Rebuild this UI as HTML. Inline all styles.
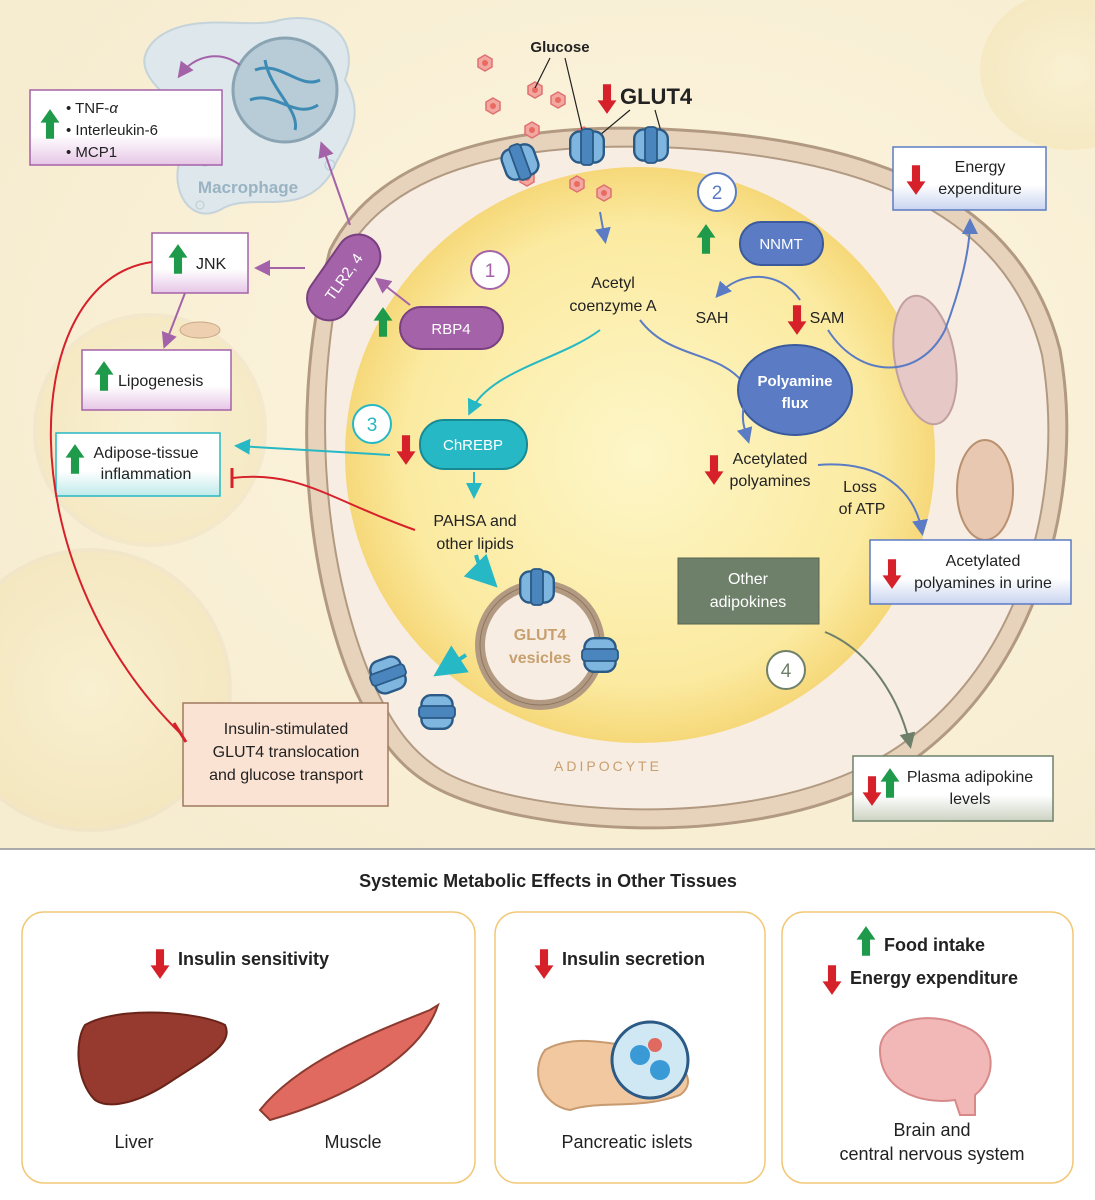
<!DOCTYPE html>
<html><head><meta charset="utf-8"><style>
html,body{margin:0;padding:0;background:#fff}
svg{display:block}
text{font-family:"Liberation Sans",sans-serif;fill:#222}
</style></head><body>
<svg width="1095" height="1200" viewBox="0 0 1095 1200" xmlns="http://www.w3.org/2000/svg">
<defs>
<radialGradient id="bg" cx="0.6" cy="0.45" r="0.7"><stop offset="0" stop-color="#fdf6e0"/><stop offset="1" stop-color="#f6ecd0"/></radialGradient>
<radialGradient id="lip" cx="0.5" cy="0.5" r="0.5"><stop offset="0" stop-color="#fdf6c8"/><stop offset="0.8" stop-color="#fbeaa0"/><stop offset="1" stop-color="#f6d879"/></radialGradient>
<radialGradient id="ghost" cx="0.5" cy="0.5" r="0.5"><stop offset="0" stop-color="#fbf3d0"/><stop offset="1" stop-color="#f3e3b0"/></radialGradient>
<linearGradient id="pk" x1="0" y1="0" x2="0" y2="1"><stop offset="0.6" stop-color="#fff"/><stop offset="1" stop-color="#e6c6e6"/></linearGradient>
<linearGradient id="tl" x1="0" y1="0" x2="0" y2="1"><stop offset="0.6" stop-color="#fff"/><stop offset="1" stop-color="#bfeaea"/></linearGradient>
<linearGradient id="bl" x1="0" y1="0" x2="0" y2="1"><stop offset="0.6" stop-color="#fff"/><stop offset="1" stop-color="#c9d4ef"/></linearGradient>
<linearGradient id="gr" x1="0" y1="0" x2="0" y2="1"><stop offset="0.6" stop-color="#fff"/><stop offset="1" stop-color="#ccd3c2"/></linearGradient>
<marker id="ap" markerWidth="8" markerHeight="8" refX="6" refY="4" orient="auto"><path d="M0,0 L8,4 L0,8z" fill="#a463a8"/></marker>
<marker id="ab" markerWidth="8" markerHeight="8" refX="6" refY="4" orient="auto"><path d="M0,0 L8,4 L0,8z" fill="#5b7cc4"/></marker>
<marker id="at" markerWidth="8" markerHeight="8" refX="6" refY="4" orient="auto"><path d="M0,0 L8,4 L0,8z" fill="#26b8c4"/></marker>
<marker id="ag" markerWidth="8" markerHeight="8" refX="6" refY="4" orient="auto"><path d="M0,0 L8,4 L0,8z" fill="#6f806a"/></marker>
<g id="up"><path transform="scale(1.35)" d="M-3,8 L-3,-4 L-7,-4 L0,-14 L7,-4 L3,-4 L3,8z" fill="#1e9a4a"/></g>
<g id="dn"><path transform="scale(1.35)" d="M-3,-8 L-3,4 L-7,4 L0,14 L7,4 L3,4 L3,-8z" fill="#d6202a"/></g>
<g id="ch"><g transform="scale(1.2)"><rect x="-14" y="-13" width="28" height="26" rx="8" fill="#7fb6e0" stroke="#2a5a85" stroke-width="2"/><rect x="-5" y="-15" width="10" height="30" rx="3" fill="#4a86bd" stroke="#2a5a85" stroke-width="1.5"/></g></g>
<g id="gl"><polygon points="0,-8 7,-4 7,4 0,8 -7,4 -7,-4" fill="#f2a8a0" stroke="#e07070" stroke-width="1.5"/><circle r="3" fill="#e86a60"/></g>
</defs>
<rect width="1095" height="850" fill="url(#bg)"/>
<circle cx="90" cy="690" r="140" fill="url(#ghost)" stroke="#eee0c0" stroke-width="4" opacity="0.5"/>
<circle cx="150" cy="430" r="115" fill="url(#ghost)" stroke="#eee0c0" stroke-width="4" opacity="0.45"/>
<ellipse cx="1070" cy="70" rx="90" ry="80" fill="url(#ghost)" opacity="0.5"/>
<rect x="0" y="848" width="1095" height="2" fill="#aaa"/>
<path d="M155,40 C190,10 250,30 280,20 C330,10 360,40 345,80 C370,120 340,150 330,175 C300,220 250,190 220,210 C190,225 170,190 180,160 C150,150 170,110 160,90 C140,70 140,55 155,40z" fill="#dde7ec" stroke="#c5d3da" stroke-width="2"/>
<circle cx="285" cy="90" r="52" fill="#b7ccd6" stroke="#8aa4b3" stroke-width="3"/>
<path d="M255,70 C280,60 300,90 320,80 M250,100 C275,90 295,120 318,105 M265,60 C270,90 300,110 295,130" stroke="#3d8bb5" stroke-width="3" fill="none"/>
<circle cx="205" cy="160" r="6" fill="none" stroke="#b9cbd5"/><circle cx="200" cy="205" r="4" fill="none" stroke="#b9cbd5"/><circle cx="330" cy="165" r="5" fill="none" stroke="#b9cbd5"/>
<text x="248" y="193" font-size="17" font-weight="bold" text-anchor="middle" style="fill:#9ab3c3">Macrophage</text>
<path d="M240,65 C220,50 195,55 180,75" stroke="#a463a8" stroke-width="2" fill="none" marker-end="url(#ap)"/>
<path d="M330,250 C380,150 520,120 680,130 C860,140 1020,190 1060,350 C1090,520 1020,720 860,790 C720,850 520,830 440,790 C400,770 380,740 360,700 C320,620 280,440 330,250z" fill="#e7d3bc" stroke="#b29a82" stroke-width="3"/>
<path d="M345,255 C395,165 525,140 680,148 C850,158 1005,205 1042,355 C1070,520 1005,705 852,772 C720,830 525,812 450,775 C415,757 395,728 378,693 C340,615 300,445 345,255z" fill="#f7ede2" stroke="#b29a82" stroke-width="2"/>
<ellipse cx="640" cy="455" rx="295" ry="288" fill="url(#lip)"/>
<ellipse cx="925" cy="360" rx="30" ry="65" fill="#e6c8c6" stroke="#c0a0a0" stroke-width="2" transform="rotate(-10 925 360)"/>
<ellipse cx="985" cy="490" rx="28" ry="50" fill="#e8c8b0" stroke="#b99070" stroke-width="2"/>
<ellipse cx="200" cy="330" rx="20" ry="8" fill="#eed0b0" stroke="#c8a888"/>
<text x="608" y="771" font-size="14" letter-spacing="3" text-anchor="middle" style="fill:#c8a070">ADIPOCYTE</text>
<use href="#gl" x="485" y="63"/><use href="#gl" x="535" y="90"/><use href="#gl" x="493" y="106"/><use href="#gl" x="558" y="100"/><use href="#gl" x="532" y="130"/><use href="#gl" x="577" y="184"/><use href="#gl" x="604" y="193"/><use href="#gl" x="527" y="178"/><use href="#gl" x="584" y="135"/>
<text x="560" y="52" font-size="15" font-weight="bold" text-anchor="middle">Glucose</text>
<path d="M550,58 L535,88 M565,58 L582,130" stroke="#222" stroke-width="1.2"/>
<use href="#dn" x="607" y="95"/>
<text x="620" y="104" font-size="22" font-weight="bold">GLUT4</text>
<path d="M630,110 L600,135 M655,110 L662,135" stroke="#222" stroke-width="1.2"/>
<use href="#ch" x="520" y="162" transform="rotate(-20 520 162)"/><use href="#ch" x="587" y="147"/><use href="#ch" x="651" y="145"/>
<rect x="30" y="90" width="192" height="75" fill="url(#pk)" stroke="#a463a8" stroke-width="1.5"/>
<use href="#up" x="50" y="128"/>
<text font-size="15"><tspan x="66" y="113">• TNF-<tspan font-style="italic">α</tspan></tspan><tspan x="66" y="135">• Interleukin-6</tspan><tspan x="66" y="157">• MCP1</tspan></text>
<rect x="152" y="233" width="96" height="60" fill="url(#pk)" stroke="#a463a8" stroke-width="1.5"/>
<use href="#up" x="178" y="263"/><text x="196" y="269" font-size="16">JNK</text>
<rect x="82" y="350" width="149" height="60" fill="url(#pk)" stroke="#a463a8" stroke-width="1.5"/>
<use href="#up" x="104" y="380"/><text x="118" y="386" font-size="16">Lipogenesis</text>
<rect x="56" y="433" width="164" height="63" fill="url(#tl)" stroke="#26b8c4" stroke-width="1.5"/>
<use href="#up" x="75" y="463"/><text font-size="16" text-anchor="middle"><tspan x="146" y="458">Adipose-tissue</tspan><tspan x="146" y="479">inflammation</tspan></text>
<rect x="183" y="703" width="205" height="103" fill="#fbe3d3" stroke="#a07a60" stroke-width="1.5"/>
<text font-size="16" text-anchor="middle"><tspan x="286" y="734">Insulin-stimulated</tspan><tspan x="286" y="757">GLUT4 translocation</tspan><tspan x="286" y="780">and glucose transport</tspan></text>
<path d="M350,225 L322,145" stroke="#a463a8" stroke-width="2" marker-end="url(#ap)"/>
<path d="M305,268 L258,268" stroke="#a463a8" stroke-width="2" marker-end="url(#ap)"/>
<path d="M185,293 L165,345" stroke="#a463a8" stroke-width="2" marker-end="url(#ap)"/>
<path d="M410,305 L378,280" stroke="#a463a8" stroke-width="2" marker-end="url(#ap)"/>
<rect x="322" y="230" width="44" height="95" rx="22" fill="#a463a8" stroke="#7a3f80" stroke-width="2" transform="rotate(35 344 277)"/>
<text x="344" y="282" font-size="15" text-anchor="middle" transform="rotate(-55 344 277)" style="fill:#fff">TLR2, 4</text>
<use href="#up" x="383" y="326"/>
<rect x="400" y="307" width="103" height="42" rx="21" fill="#a463a8" stroke="#7a3f80" stroke-width="2"/>
<text x="451" y="334" font-size="15" text-anchor="middle" style="fill:#fff">RBP4</text>
<circle cx="490" cy="270" r="19" fill="#fff" stroke="#a463a8" stroke-width="2"/><text x="490" y="277" font-size="19" text-anchor="middle" style="fill:#a463a8">1</text>
<path d="M152,262 C20,280 5,560 180,733" stroke="#d6202a" stroke-width="2" fill="none"/>
<path d="M174,723 L186,742" stroke="#d6202a" stroke-width="3"/>
<path d="M415,530 C330,500 300,470 232,478" stroke="#d6202a" stroke-width="2" fill="none"/>
<path d="M232,468 L232,488" stroke="#d6202a" stroke-width="3"/>
<circle cx="372" cy="424" r="19" fill="#fff" stroke="#26b8c4" stroke-width="2"/><text x="372" y="431" font-size="19" text-anchor="middle" style="fill:#26b8c4">3</text>
<use href="#dn" x="406" y="446"/>
<rect x="420" y="420" width="107" height="49" rx="24" fill="#26b8c4" stroke="#178a95" stroke-width="2"/>
<text x="473" y="450" font-size="15" text-anchor="middle" style="fill:#fff">ChREBP</text>
<path d="M390,455 L238,446" stroke="#26b8c4" stroke-width="2" marker-end="url(#at)"/>
<path d="M600,330 C560,360 490,370 470,412" stroke="#26b8c4" stroke-width="2" fill="none" marker-end="url(#at)"/>
<path d="M474,472 L474,495" stroke="#26b8c4" stroke-width="2" marker-end="url(#at)"/>
<text font-size="16" text-anchor="middle"><tspan x="475" y="526">PAHSA and</tspan><tspan x="475" y="549">other lipids</tspan></text>
<path d="M476,555 C480,570 485,575 492,582" stroke="#26b8c4" stroke-width="4" fill="none" marker-end="url(#at)"/>
<path d="M466,655 L440,672" stroke="#26b8c4" stroke-width="4" marker-end="url(#at)"/>
<circle cx="540" cy="645" r="60" fill="#f7ede2" stroke="#b29a82" stroke-width="10"/>
<circle cx="540" cy="645" r="60" fill="none" stroke="#8c7560" stroke-width="1"/>
<text font-size="16" font-weight="bold" text-anchor="middle" style="fill:#c8a070"><tspan x="540" y="640">GLUT4</tspan><tspan x="540" y="663">vesicles</tspan></text>
<use href="#ch" x="537" y="587"/><use href="#ch" x="600" y="655" transform="rotate(90 600 655)"/>
<use href="#ch" x="388" y="675" transform="rotate(70 388 675)"/><use href="#ch" x="437" y="712" transform="rotate(90 437 712)"/>
<path d="M600,212 L605,240" stroke="#5b7cc4" stroke-width="2" marker-end="url(#ab)"/>
<text font-size="16" text-anchor="middle"><tspan x="613" y="288">Acetyl</tspan><tspan x="613" y="311">coenzyme A</tspan></text>
<circle cx="717" cy="192" r="19" fill="#fff" stroke="#5b7cc4" stroke-width="2"/><text x="717" y="199" font-size="19" text-anchor="middle" style="fill:#5b7cc4">2</text>
<use href="#up" x="706" y="243"/>
<rect x="740" y="222" width="83" height="43" rx="21" fill="#5b7cc4" stroke="#3a5a9c" stroke-width="2"/>
<text x="781" y="249" font-size="15" text-anchor="middle" style="fill:#fff">NNMT</text>
<path d="M800,300 C780,270 740,270 718,295" stroke="#5b7cc4" stroke-width="2" fill="none" marker-end="url(#ab)"/>
<text x="712" y="323" font-size="16" text-anchor="middle">SAH</text>
<use href="#dn" x="797" y="316"/><text x="827" y="323" font-size="16" text-anchor="middle">SAM</text>
<path d="M828,330 C860,380 920,380 945,330 C960,290 970,250 970,222" stroke="#5b7cc4" stroke-width="2" fill="none" marker-end="url(#ab)"/>
<path d="M640,320 C670,360 720,350 745,385" stroke="#5b7cc4" stroke-width="2" fill="none"/>
<ellipse cx="795" cy="390" rx="57" ry="45" fill="#5b7cc4" stroke="#3a5a9c" stroke-width="2"/>
<text font-size="15" font-weight="bold" text-anchor="middle" style="fill:#fff"><tspan x="795" y="386">Polyamine</tspan><tspan x="795" y="408">flux</tspan></text>
<path d="M745,400 C740,420 745,430 748,440" stroke="#5b7cc4" stroke-width="2" fill="none" marker-end="url(#ab)"/>
<use href="#dn" x="714" y="466"/>
<text font-size="16" text-anchor="middle"><tspan x="770" y="464">Acetylated</tspan><tspan x="770" y="486">polyamines</tspan></text>
<path d="M818,465 C880,460 915,490 922,532" stroke="#5b7cc4" stroke-width="2" fill="none" marker-end="url(#ab)"/>
<text font-size="16" text-anchor="middle"><tspan x="860" y="492">Loss</tspan><tspan x="862" y="514">of ATP</tspan></text>
<rect x="893" y="147" width="153" height="63" fill="url(#bl)" stroke="#5b7cc4" stroke-width="1.5"/>
<use href="#dn" x="916" y="176"/><text font-size="16" text-anchor="middle"><tspan x="980" y="172">Energy</tspan><tspan x="980" y="194">expenditure</tspan></text>
<rect x="870" y="540" width="201" height="64" fill="url(#bl)" stroke="#5b7cc4" stroke-width="1.5"/>
<use href="#dn" x="892" y="570"/><text font-size="16" text-anchor="middle"><tspan x="983" y="566">Acetylated</tspan><tspan x="983" y="588">polyamines in urine</tspan></text>
<rect x="678" y="558" width="141" height="66" fill="#6f806a" stroke="#55634f"/>
<text font-size="16" text-anchor="middle" style="fill:#fff"><tspan x="748" y="584">Other</tspan><tspan x="748" y="607">adipokines</tspan></text>
<path d="M825,632 C870,650 900,700 910,745" stroke="#6f806a" stroke-width="2" fill="none" marker-end="url(#ag)"/>
<circle cx="786" cy="670" r="19" fill="#fff" stroke="#6f806a" stroke-width="2"/><text x="786" y="677" font-size="19" text-anchor="middle" style="fill:#6f806a">4</text>
<rect x="853" y="756" width="200" height="65" fill="url(#gr)" stroke="#6f806a" stroke-width="1.5"/>
<use href="#dn" x="872" y="787"/><use href="#up" x="890" y="787"/>
<text font-size="16" text-anchor="middle"><tspan x="970" y="782">Plasma adipokine</tspan><tspan x="970" y="804">levels</tspan></text>
<text x="548" y="887" font-size="18" font-weight="bold" text-anchor="middle">Systemic Metabolic Effects in Other Tissues</text>
<rect x="22" y="912" width="453" height="271" rx="22" fill="#fff" stroke="#f2c877" stroke-width="1.5"/>
<rect x="495" y="912" width="270" height="271" rx="22" fill="#fff" stroke="#f2c877" stroke-width="1.5"/>
<rect x="782" y="912" width="291" height="271" rx="22" fill="#fff" stroke="#f2c877" stroke-width="1.5"/>
<use href="#dn" x="160" y="960"/><text x="178" y="965" font-size="18" font-weight="bold">Insulin sensitivity</text>
<use href="#dn" x="544" y="960"/><text x="562" y="965" font-size="18" font-weight="bold">Insulin secretion</text>
<use href="#up" x="866" y="945"/><text x="884" y="951" font-size="18" font-weight="bold">Food intake</text>
<use href="#dn" x="832" y="976"/><text x="850" y="984" font-size="18" font-weight="bold">Energy expenditure</text>
<path d="M85,1025 C120,1005 200,1012 225,1025 C235,1045 200,1062 170,1082 C140,1102 110,1110 95,1100 C75,1080 75,1040 85,1025z" fill="#96392e" stroke="#6a2318" stroke-width="2"/>
<path d="M260,1110 C300,1060 380,1030 430,1010 L438,1005 C420,1060 340,1100 270,1120z" fill="#e06a60" stroke="#8b3a30" stroke-width="2"/>
<text x="134" y="1148" font-size="18" text-anchor="middle">Liver</text>
<text x="353" y="1148" font-size="18" text-anchor="middle">Muscle</text>
<path d="M545,1050 C580,1030 620,1050 650,1045 C680,1060 700,1080 680,1095 C640,1110 600,1100 570,1110 C540,1105 530,1070 545,1050z" fill="#f2c8a0" stroke="#c89a70" stroke-width="2"/>
<circle cx="650" cy="1060" r="38" fill="#cfe8f4" stroke="#2a5a85" stroke-width="3"/>
<circle cx="640" cy="1055" r="10" fill="#3a9ad6"/><circle cx="660" cy="1070" r="10" fill="#3a9ad6"/><circle cx="655" cy="1045" r="7" fill="#e06a60"/>
<text x="627" y="1148" font-size="18" text-anchor="middle">Pancreatic islets</text>
<path d="M880,1050 C880,1020 930,1010 960,1025 C995,1035 1000,1075 975,1095 L975,1115 L960,1115 L955,1100 C920,1105 880,1090 880,1050z" fill="#f2b8b8" stroke="#d88a8a" stroke-width="2"/>
<text font-size="18" text-anchor="middle"><tspan x="932" y="1136">Brain and</tspan><tspan x="932" y="1160">central nervous system</tspan></text>
</svg>
</body></html>
